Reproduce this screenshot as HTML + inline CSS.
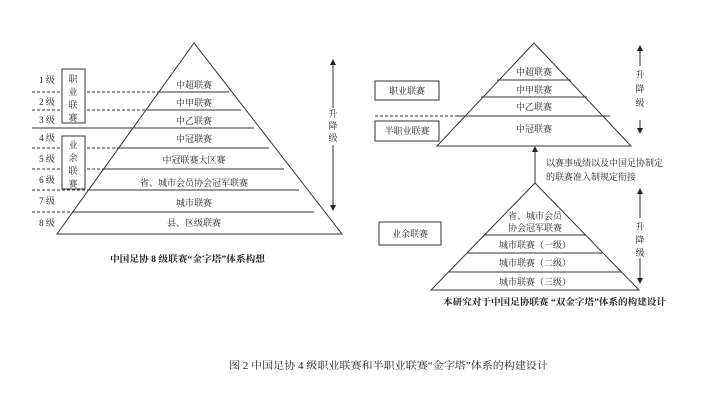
<!DOCTYPE html>
<html><head><meta charset="utf-8"><style>
html,body{margin:0;padding:0;background:#fff;}
svg{display:block;}
text{font-family:"Liberation Serif","Noto Serif CJK SC","Noto Sans CJK SC",serif;fill:#222;}
</style></head><body>
<svg width="720" height="409" viewBox="0 0 720 409" xmlns="http://www.w3.org/2000/svg">
<defs><marker id="ah" markerWidth="6" markerHeight="6" refX="3" refY="3" orient="auto"><path d="M0,0 L6,3 L0,6 z" fill="#222"/></marker></defs>
<g stroke="#333" stroke-width="1" fill="none">
<polygon points="194,43 57,234 342,234"/>
<line x1="160" y1="92" x2="229" y2="92"/>
<line x1="147" y1="110" x2="241" y2="110"/>
<line x1="134" y1="128" x2="254" y2="128"/>
<line x1="32" y1="128" x2="134" y2="128"/>
<line x1="119" y1="148" x2="269" y2="148"/>
<line x1="104" y1="169" x2="284" y2="169"/>
<line x1="89" y1="190" x2="299" y2="190"/>
<line x1="74" y1="212" x2="314" y2="212"/>
<g stroke-dasharray="3,2">
<line x1="32" y1="92" x2="160" y2="92"/>
<line x1="32" y1="110" x2="147" y2="110"/>
<line x1="32" y1="148" x2="119" y2="148"/>
<line x1="32" y1="169" x2="104" y2="169"/>
<line x1="32" y1="190" x2="89" y2="190"/>
<line x1="32" y1="212" x2="74" y2="212"/>
<line x1="375" y1="116" x2="458" y2="116"/>
</g>
<rect x="62" y="69" width="23" height="54" fill="#fff"/>
<rect x="62" y="136" width="23" height="53" fill="#fff"/>
<line x1="333" y1="108" x2="333" y2="62" marker-end="url(#ah)"/>
<line x1="333" y1="145" x2="333" y2="208" marker-end="url(#ah)"/>
<polygon points="534,43 437,146 631,146"/>
<line x1="497" y1="80" x2="571" y2="80"/>
<line x1="481" y1="97" x2="587" y2="97"/>
<line x1="458" y1="116" x2="610" y2="116"/>
<rect x="375" y="81" width="64" height="19"/>
<rect x="375" y="121" width="64" height="20"/>
<line x1="640" y1="66" x2="640" y2="48" marker-end="url(#ah)"/>
<line x1="640" y1="120" x2="640" y2="131" marker-end="url(#ah)"/>
<line x1="535" y1="183" x2="535" y2="149" marker-end="url(#ah)"/>
<polygon points="535,183 431,290 639,290"/>
<line x1="485" y1="235" x2="586" y2="235"/>
<line x1="467" y1="253" x2="603" y2="253"/>
<line x1="449" y1="272" x2="621" y2="272"/>
<rect x="379" y="222" width="62" height="23"/>
<line x1="640" y1="218" x2="640" y2="191" marker-end="url(#ah)"/>
<line x1="640" y1="258" x2="640" y2="281" marker-end="url(#ah)"/>
</g>
<g font-size="9" text-anchor="middle">
<text x="47" y="83">1 级</text><text x="47" y="105">2 级</text><text x="47" y="123">3 级</text>
<text x="47" y="141">4 级</text><text x="47" y="162">5 级</text><text x="47" y="183">6 级</text>
<text x="47" y="204">7 级</text><text x="47" y="226">8 级</text>
<text x="73" y="82">职</text><text x="73" y="95">业</text><text x="73" y="108">联</text><text x="73" y="121">赛</text>
<text x="73" y="148">业</text><text x="73" y="161">余</text><text x="73" y="174">联</text><text x="73" y="187">赛</text>
<text x="194" y="88">中超联赛</text><text x="194" y="106">中甲联赛</text><text x="194" y="124">中乙联赛</text>
<text x="194" y="142">中冠联赛</text><text x="194" y="163">中冠联赛大区赛</text>
<text x="194" y="186">省、城市会员协会冠军联赛</text><text x="194" y="206">城市联赛</text>
<text x="194" y="226">县、区级联赛</text>
<text x="333" y="117">升</text><text x="333" y="129">降</text><text x="333" y="141">级</text>
<text x="534" y="75">中超联赛</text><text x="534" y="93">中甲联赛</text><text x="534" y="110">中乙联赛</text><text x="534" y="132">中冠联赛</text>
<text x="407" y="94">职业联赛</text><text x="407" y="134">半职业联赛</text>
<text x="640" y="78">升</text><text x="640" y="92">降</text><text x="640" y="106">级</text>
<text x="535" y="219">省、城市会员</text><text x="535" y="231">协会冠军联赛</text>
<text x="535" y="248">城市联赛（一级）</text><text x="535" y="266">城市联赛（二级）</text><text x="535" y="285">城市联赛（三级）</text>
<text x="410" y="237">业余联赛</text>
<text x="640" y="230">升</text><text x="640" y="243">降</text><text x="640" y="256">级</text>
</g>
<g font-size="9">
<text x="546" y="166">以赛事成绩以及中国足协制定</text>
<text x="546" y="180">的联赛准入制规定衔接</text>
</g>
<g font-size="9" font-weight="bold">
<text x="110" y="262" textLength="155" lengthAdjust="spacingAndGlyphs">中国足协 8 级联赛“金字塔”体系构想</text>
<text x="443" y="305" textLength="223" lengthAdjust="spacingAndGlyphs">本研究对于中国足协联赛 “双金字塔”体系的构建设计</text>
</g>
<text x="229" y="369" font-size="10" textLength="319" lengthAdjust="spacingAndGlyphs">图 2  中国足协 4 级职业联赛和半职业联赛“金字塔”体系的构建设计</text>
</svg>
</body></html>
